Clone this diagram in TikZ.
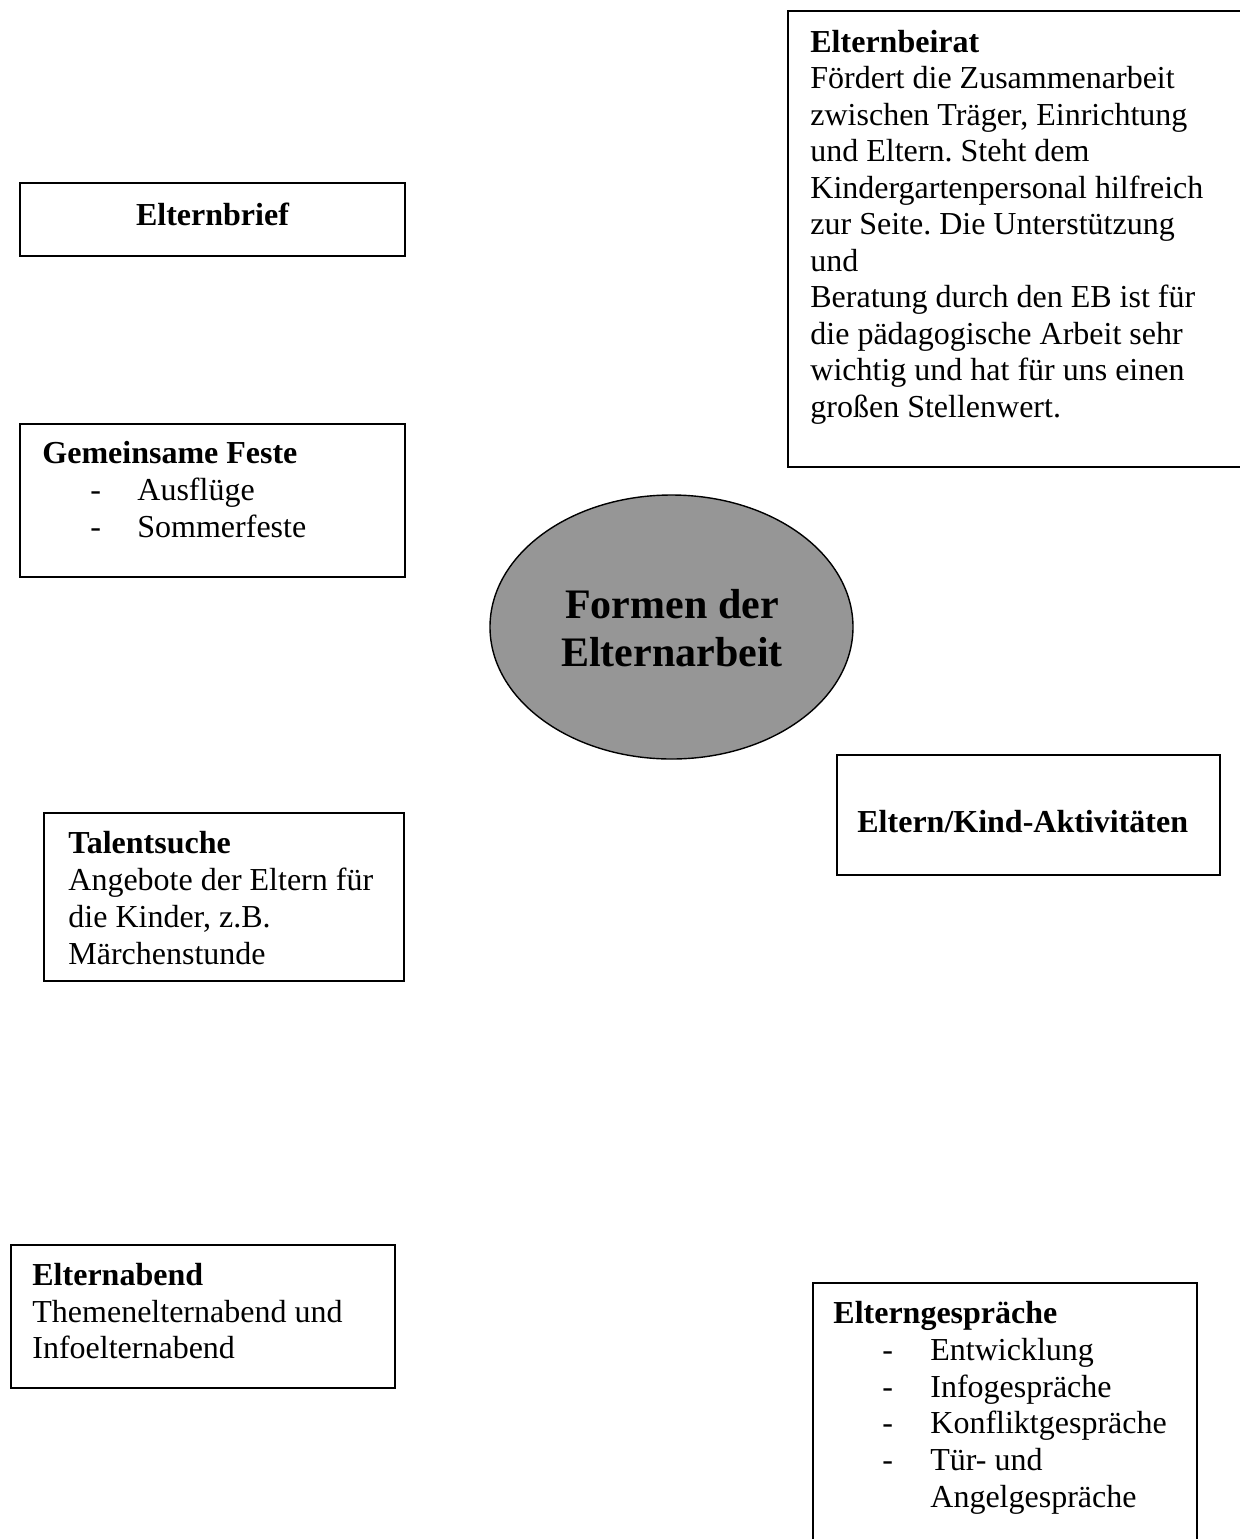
\documentclass[tikz,border=0pt]{standalone}
\usepackage{fontspec}
\setmainfont{Liberation Serif}
\usetikzlibrary{shapes.geometric}
\frenchspacing
\begin{document}
\begin{tikzpicture}[x=0.5pt,y=-0.5pt,
  txt/.style={anchor=base west, inner sep=0pt, font=\fontsize{16pt}{18pt}\selectfont},
  btxt/.style={anchor=base west, inner sep=0pt, font=\fontsize{16pt}{18pt}\selectfont\bfseries},
  ctxt/.style={anchor=base, inner sep=0pt, font=\fontsize{16pt}{18pt}\selectfont\bfseries},
  bigtxt/.style={anchor=base, inner sep=0pt, font=\fontsize{21pt}{24pt}\selectfont\bfseries},
  boxline/.style={draw=black, line width=1pt},
  centre/.style={ellipse, draw=black, line width=0.7pt, fill=black!41, inner sep=0pt}
]
\useasboundingbox (0,0) rectangle (1240,1539);

% Elternbeirat
\draw[boxline] (788,11) rectangle (1250,467);
\node[btxt] (eb0) at (810,52) {Elternbeirat};
\node[txt] (eb1) at (810,88.5) {Fördert die Zusammenarbeit};
\node[txt] (eb2) at (810,125) {zwischen Träger, Einrichtung};
\node[txt] (eb3) at (810,161.5) {und Eltern. Steht dem};
\node[txt] (eb4) at (810,198) {Kindergartenpersonal hilfreich};
\node[txt] (eb5) at (810,234.5) {zur Seite. Die Unterstützung};
\node[txt] (eb6) at (810,271) {und};
\node[txt] (eb7) at (810,307.5) {Beratung durch den EB ist für};
\node[txt] (eb8) at (810,344) {die pädagogische Arbeit sehr};
\node[txt] (eb9) at (810,380.5) {wichtig und hat für uns einen};
\node[txt] (eb10) at (810,417) {großen Stellenwert.};

% Elternbrief
\draw[boxline] (20,183) rectangle (405,256);
\node[ctxt] (ebr) at (212.5,225) {Elternbrief};

% Gemeinsame Feste
\draw[boxline] (20,424) rectangle (405,577);
\node[btxt] (gf0) at (42,463) {Gemeinsame Feste};
\node[txt] (gfd1) at (90,500) {-};
\node[txt] (gf1) at (137,500) {Ausflüge};
\node[txt] (gfd2) at (90,537) {-};
\node[txt] (gf2) at (137,537) {Sommerfeste};

% Centre ellipse
\node[centre, minimum width=181.5pt, minimum height=132pt] (ell) at (671.5,627) {};
\node[bigtxt] (c1) at (672,618) {Formen der};
\node[bigtxt] (c2) at (672,666) {Elternarbeit};

% Eltern/Kind-Aktivitaeten
\draw[boxline] (837,755) rectangle (1220,875);
\node[btxt] (ek) at (857,832) {Eltern/Kind-Aktivitäten};

% Talentsuche
\draw[boxline] (44,813) rectangle (404,981);
\node[btxt] (ts0) at (68,853) {Talentsuche};
\node[txt] (ts1) at (68,890) {Angebote der Eltern für};
\node[txt] (ts2) at (68,927) {die Kinder, z.B.};
\node[txt] (ts3) at (68,964) {Märchenstunde};

% Elternabend
\draw[boxline] (11,1245) rectangle (395,1388);
\node[btxt] (ea0) at (32,1285) {Elternabend};
\node[txt] (ea1) at (32,1322) {Themenelternabend und};
\node[txt] (ea2) at (32,1358) {Infoelternabend};

% Elterngespraeche
\draw[boxline] (813,1545) -- (813,1283) -- (1197,1283) -- (1197,1545);
\node[btxt] (eg0) at (833,1323) {Elterngespräche};
\node[txt] (egd1) at (882,1360) {-};
\node[txt] (eg1) at (930,1360) {Entwicklung};
\node[txt] (egd2) at (882,1397) {-};
\node[txt] (eg2) at (930,1397) {Infogespräche};
\node[txt] (egd3) at (882,1433) {-};
\node[txt] (eg3) at (930,1433) {Konfliktgespräche};
\node[txt] (egd4) at (882,1470) {-};
\node[txt] (eg4) at (930,1470) {Tür- und};
\node[txt] (eg5) at (930,1507) {Angelgespräche};
\end{tikzpicture}
\end{document}
